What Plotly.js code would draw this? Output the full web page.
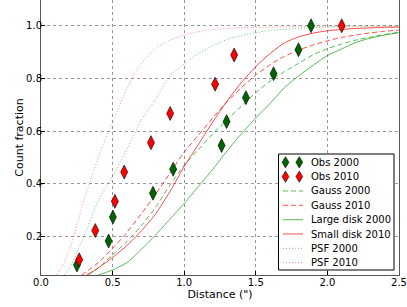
<!DOCTYPE html>
<html>
<head>
<meta charset="utf-8">
<script src="https://cdn.plot.ly/plotly-3.0.1.min.js"></script>
<style>html,body{margin:0;padding:0;background:#fff;}#chart{width:407px;height:307px;}</style>
</head>
<body>
<div id="chart"></div>
<script>
// Observed points
const obs2000X = [0.251, 0.472, 0.502, 0.782, 0.923, 1.261, 1.296, 1.431, 1.624, 1.798, 1.886];
const obs2000Y = [0.091, 0.182, 0.273, 0.364, 0.455, 0.545, 0.636, 0.727, 0.818, 0.909, 1.0];
const obs2010X = [0.267, 0.379, 0.516, 0.581, 0.768, 0.902, 1.216, 1.349, 2.1];
const obs2010Y = [0.111, 0.222, 0.333, 0.444, 0.556, 0.667, 0.778, 0.889, 1.0];

// Gauss 2000 (green dashed)
const gauss2000X = [0.33, 0.4, 0.5, 0.6, 0.7, 0.8, 0.9, 1.0, 1.1, 1.2, 1.3, 1.4, 1.5, 1.6, 1.7, 1.8, 1.9, 2.0, 2.1, 2.2, 2.3, 2.4, 2.5];
const gauss2000Y = [0.053, 0.08, 0.13, 0.18, 0.24, 0.31, 0.395, 0.47, 0.53, 0.59, 0.643, 0.695, 0.746, 0.79, 0.826, 0.858, 0.89, 0.913, 0.931, 0.946, 0.957, 0.967, 0.975];

// Gauss 2010 (red dashed)
const gauss2010X = [0.284, 0.4, 0.5, 0.6, 0.7, 0.8, 0.9, 1.0, 1.1, 1.2, 1.3, 1.4, 1.5, 1.6, 1.7, 1.8, 1.9, 2.0, 2.1, 2.2, 2.3, 2.4, 2.5];
const gauss2010Y = [0.053, 0.1, 0.155, 0.215, 0.285, 0.36, 0.44, 0.52, 0.585, 0.65, 0.712, 0.765, 0.813, 0.852, 0.884, 0.908, 0.927, 0.943, 0.956, 0.965, 0.973, 0.979, 0.984];

// Large disk 2000 (green solid)
const disk2000X = [0.4, 0.5, 0.6, 0.7, 0.8, 0.9, 1.0, 1.1, 1.2, 1.3, 1.4, 1.5, 1.6, 1.7, 1.8, 1.9, 2.0, 2.1, 2.2, 2.3, 2.4, 2.5];
const disk2000Y = [0.053, 0.072, 0.1, 0.15, 0.205, 0.265, 0.325, 0.39, 0.455, 0.525, 0.59, 0.65, 0.705, 0.765, 0.81, 0.85, 0.887, 0.912, 0.937, 0.953, 0.965, 0.974];

// Small disk 2010 (red solid)
const disk2010X = [0.32, 0.4, 0.5, 0.6, 0.7, 0.8, 0.9, 1.0, 1.1, 1.2, 1.3, 1.4, 1.5, 1.6, 1.7, 1.8, 1.9, 2.0, 2.1, 2.2, 2.3, 2.4, 2.5];
const disk2010Y = [0.053, 0.08, 0.12, 0.165, 0.22, 0.285, 0.37, 0.465, 0.55, 0.635, 0.715, 0.785, 0.845, 0.895, 0.935, 0.958, 0.972, 0.981, 0.986, 0.99, 0.992, 0.994, 0.995];

// PSF 2000 (green dotted)
const psf2000X = [0.163, 0.2, 0.3, 0.4, 0.5, 0.6, 0.7, 0.8, 0.9, 1.0, 1.1, 1.2, 1.3, 1.4, 1.5, 1.6, 1.8, 2.0, 2.5];
const psf2000Y = [0.053, 0.08, 0.2, 0.335, 0.43, 0.53, 0.64, 0.72, 0.81, 0.855, 0.895, 0.925, 0.948, 0.963, 0.974, 0.982, 0.99, 0.995, 0.999];

// PSF 2010 (red dotted)
const psf2010X = [0.11, 0.15, 0.2, 0.25, 0.3, 0.35, 0.4, 0.45, 0.5, 0.55, 0.6, 0.65, 0.7, 0.8, 0.9, 1.0, 1.1, 1.2, 1.4, 1.7, 2.0, 2.5];
const psf2010Y = [0.053, 0.09, 0.15, 0.24, 0.34, 0.42, 0.5, 0.57, 0.635, 0.7, 0.76, 0.815, 0.855, 0.915, 0.945, 0.966, 0.978, 0.986, 0.993, 0.996, 0.998, 0.999];

// Legend labels (in order)
const legendLabels = ['Obs 2000', 'Obs 2010', 'Gauss 2000', 'Gauss 2010', 'Large disk 2000', 'Small disk 2010', 'PSF 2000', 'PSF 2010'];

const GREEN = 'rgba(0,150,0,0.65)';
const RED = 'rgba(255,0,0,0.7)';
const GREEN_DOT = 'rgba(0,150,0,0.55)';
const RED_DOT = 'rgba(255,0,0,0.45)';
const DASH = '5px,3px';
const DOT = '1px,2px';
const MK_GREEN = '#006400';
const MK_RED = '#ff0000';

function line(x, y, name, color, dash) {
  return {x: x, y: y, name: name, type: 'scatter', mode: 'lines', showlegend: false,
          line: {color: color, width: 1, dash: dash, shape: 'spline', smoothing: 0.6}};
}
function markers(x, y, name, color) {
  return {x: x, y: y, name: name, type: 'scatter', mode: 'markers', showlegend: false, cliponaxis: false,
          marker: {symbol: 'diamond-tall', size: 10, color: color, line: {color: '#000', width: 0.6}}};
}
const traces = [
  line(gauss2000X, gauss2000Y, legendLabels[2], GREEN, DASH),
  line(gauss2010X, gauss2010Y, legendLabels[3], RED, DASH),
  line(disk2000X, disk2000Y, legendLabels[4], GREEN, 'solid'),
  line(disk2010X, disk2010Y, legendLabels[5], RED, 'solid'),
  line(psf2000X, psf2000Y, legendLabels[6], GREEN_DOT, DOT),
  line(psf2010X, psf2010Y, legendLabels[7], RED_DOT, DOT),
  markers(obs2000X, obs2000Y, legendLabels[0], MK_GREEN),
  markers(obs2010X, obs2010Y, legendLabels[1], MK_RED)
];

// ---- Matplotlib-style legend box (layout decoration, pixel geometry) ----
const W = 407, H = 307, ML = 41, MR = 8, MT = 0, MB = 32;
const PW = W - ML - MR, PH = H - MT - MB;
const px = v => (v - ML) / PW;            // pixel x -> paper
const py = v => (H - MB - v) / PH;        // pixel y -> paper
const shapes = [];
const annotations = [];
shapes.push({type: 'rect', xref: 'paper', yref: 'paper', layer: 'above',
             x0: px(278.5), x1: px(394), y0: py(270), y1: py(154),
             fillcolor: '#fff', line: {color: '#000', width: 1}});
const legendStyles = [
  {kind: 'mk', color: MK_GREEN}, {kind: 'mk', color: MK_RED},
  {kind: 'ln', color: GREEN, dash: DASH}, {kind: 'ln', color: RED, dash: DASH},
  {kind: 'ln', color: GREEN, dash: 'solid'}, {kind: 'ln', color: RED, dash: 'solid'},
  {kind: 'ln', color: GREEN_DOT, dash: DOT}, {kind: 'ln', color: RED_DOT, dash: DOT}
];
function diamondPath(cx, cy) {
  const hw = 3.4, hh = 5.6;
  return 'M' + px(cx) + ',' + py(cy - hh) + ' L' + px(cx + hw) + ',' + py(cy) +
         ' L' + px(cx) + ',' + py(cy + hh) + ' L' + px(cx - hw) + ',' + py(cy) + ' Z';
}
legendLabels.forEach((lab, i) => {
  const cy = 162.3 + i * 14.34;
  const st = legendStyles[i];
  if (st.kind === 'mk') {
    [285.5, 299.3].forEach(cx => shapes.push({type: 'path', xref: 'paper', yref: 'paper', layer: 'above',
      path: diamondPath(cx, cy), fillcolor: st.color, line: {color: '#000', width: 0.6}}));
  } else {
    shapes.push({type: 'line', xref: 'paper', yref: 'paper', layer: 'above',
      x0: px(283), x1: px(303), y0: py(cy), y1: py(cy), line: {color: st.color, width: 1, dash: st.dash}});
  }
  annotations.push({xref: 'paper', yref: 'paper', x: px(309), y: py(cy), xanchor: 'left', yanchor: 'middle',
    text: lab, showarrow: false, font: {family: 'DejaVu Sans', size: 10, color: '#000'}});
});

const layout = {
  width: W, height: H,
  margin: {l: ML, r: MR, t: MT, b: MB},
  paper_bgcolor: '#fff', plot_bgcolor: '#fff',
  font: {family: 'DejaVu Sans', size: 10, color: '#000'},
  showlegend: false,
  xaxis: {range: [0, 2.5], dtick: 0.5, tick0: 0, tickformat: '.1f',
          showgrid: true, gridcolor: '#999', griddash: 'dot', gridwidth: 1,
          zeroline: false, showline: true, linecolor: '#555', linewidth: 1, mirror: true,
          ticks: 'inside', ticklen: 4, tickcolor: '#000', ticklabelstandoff: -2,
          title: {text: 'Distance (")', font: {size: 11}, standoff: 2}},
  yaxis: {range: [0.053, 1.098], dtick: 0.2, tick0: 0, tickformat: '.1f',
          showgrid: true, gridcolor: '#999', griddash: 'dot', gridwidth: 1,
          zeroline: false, showline: true, linecolor: '#555', linewidth: 1, mirror: true,
          ticks: 'inside', ticklen: 4, tickcolor: '#000', ticklabelstandoff: -4,
          title: {text: 'Count fraction', font: {size: 11}, standoff: 0}},
  shapes: shapes,
  annotations: annotations
};

Plotly.newPlot('chart', traces, layout, {displayModeBar: false, staticPlot: true});
</script>
</body>
</html>
